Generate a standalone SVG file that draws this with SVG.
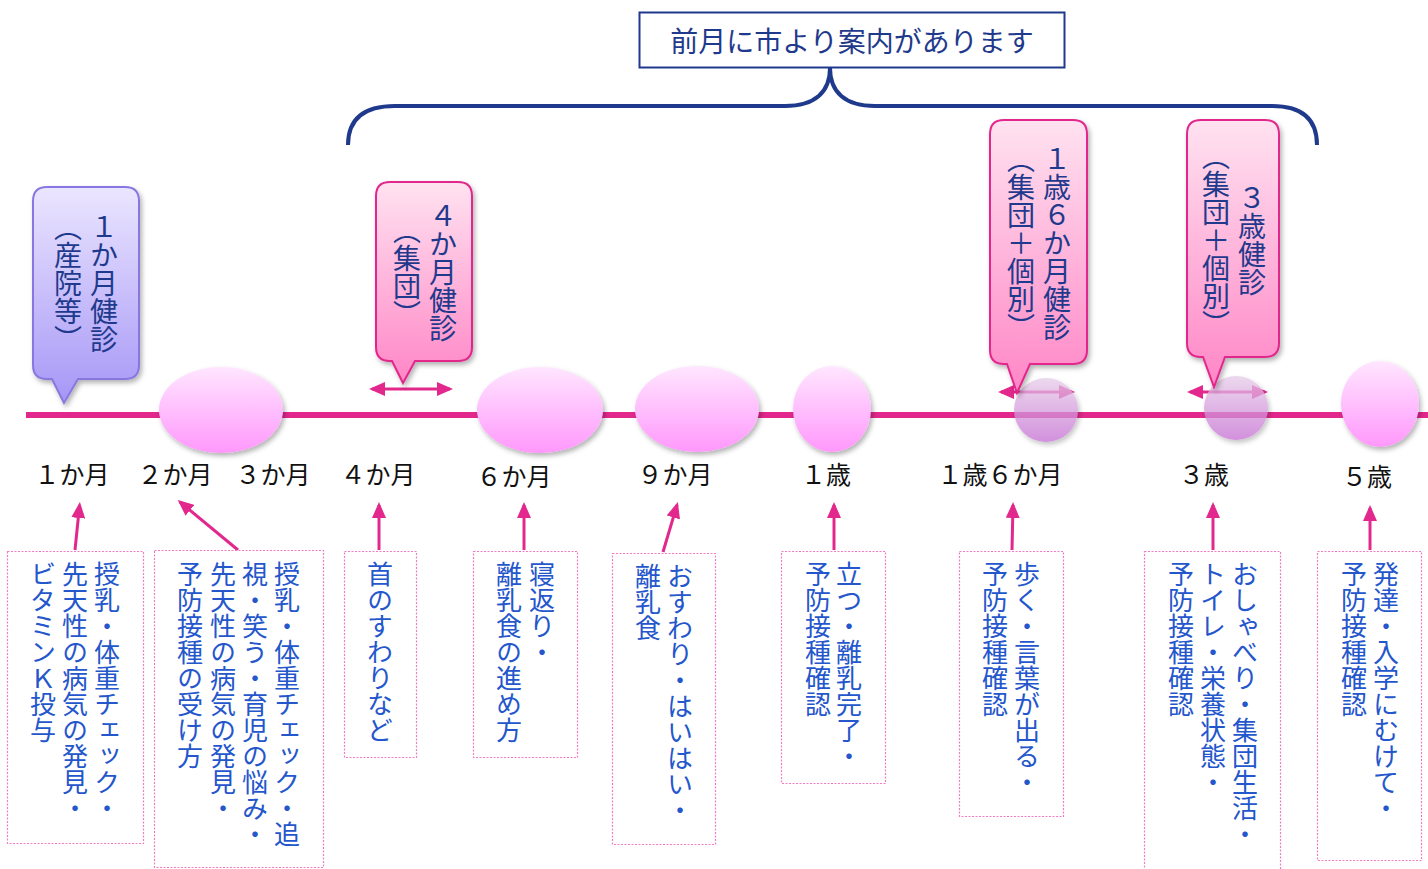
<svg xmlns="http://www.w3.org/2000/svg" width="1428" height="869" viewBox="0 0 1428 869">
<style>
.vt{writing-mode:vertical-rl;font-family:"Noto Sans CJK JP",sans-serif;}
.ct{font-size:28px;fill:#1f3a8c;text-anchor:middle;}
.bt{font-size:26px;fill:#2456cc;}
.lbl{font-family:"Noto Sans CJK JP",sans-serif;font-size:25px;fill:#111;text-anchor:middle;}
.box{fill:#fff;stroke:#f27cc4;stroke-width:1.2;stroke-dasharray:2 1.5;}
.conn{stroke:#e2288c;stroke-width:3;fill:none;}
.pk{fill:url(#gPink);stroke:#e2288c;stroke-width:2;filter:url(#sh);}
.ov{fill:url(#gOval);filter:url(#sh);}
.pc{fill:url(#gPurpleC);opacity:0.75;filter:url(#sh);}
</style>
<defs>
<linearGradient id="gOval" x1="0" y1="0" x2="0" y2="1"><stop offset="0" stop-color="#ffe6ff"/><stop offset="1" stop-color="#ff98fc"/></linearGradient>
<linearGradient id="gPurpleC" x1="0" y1="0" x2="0" y2="1"><stop offset="0" stop-color="#e6cce8"/><stop offset="1" stop-color="#c46cd2"/></linearGradient>
<linearGradient id="gPink" x1="0" y1="0" x2="0" y2="1"><stop offset="0" stop-color="#ffe2f0"/><stop offset="1" stop-color="#ff86c6"/></linearGradient>
<linearGradient id="gPurple" x1="0" y1="0" x2="0" y2="1"><stop offset="0" stop-color="#ebe6ff"/><stop offset="1" stop-color="#a696f6"/></linearGradient>
<filter id="sh" x="-20%" y="-20%" width="150%" height="150%"><feDropShadow dx="2" dy="3" stdDeviation="2.5" flood-color="#000" flood-opacity="0.3"/></filter>
<marker id="ah" viewBox="0 0 16 14" refX="13" refY="7" markerWidth="16" markerHeight="14" markerUnits="userSpaceOnUse" orient="auto-start-reverse"><path d="M0,0 L16,7 L0,14 Z" fill="#e2288c"/></marker>
</defs>
<rect width="1428" height="869" fill="#fff"/>

<g id="header">
<rect x="639.5" y="12.5" width="425" height="55" fill="#fff" stroke="#1f3a8c" stroke-width="2"/>
<text x="852" y="52" font-family="'Noto Sans CJK JP',sans-serif" font-size="28" fill="#1f3a8c" text-anchor="middle">前月に市より案内があります</text>
</g>

<g id="brace">
<path d="M348,145 Q348,106 395,106 L785,106 C815,106 830,92 830,68 C830,92 845,106 875,106 L1272,106 Q1317,106 1317,145" fill="none" stroke="#1f3a8c" stroke-width="4"/>
</g>

<g id="timeline">
<line x1="26" y1="415" x2="1428" y2="415" stroke="#e2288c" stroke-width="6"/>
</g>

<g id="connectors">
<line class="conn" x1="372" y1="389" x2="450" y2="389" marker-start="url(#ah)" marker-end="url(#ah)"/>
<line class="conn" x1="1001" y1="392" x2="1072" y2="392" marker-start="url(#ah)" marker-end="url(#ah)"/>
<line class="conn" x1="1190" y1="392" x2="1265" y2="392" marker-start="url(#ah)" marker-end="url(#ah)"/>
<line class="conn" x1="75" y1="550" x2="79.6" y2="505" marker-end="url(#ah)"/>
<line class="conn" x1="238" y1="550" x2="180" y2="502" marker-end="url(#ah)"/>
<line class="conn" x1="379" y1="550" x2="379" y2="505" marker-end="url(#ah)"/>
<line class="conn" x1="524" y1="550" x2="524" y2="505" marker-end="url(#ah)"/>
<line class="conn" x1="663" y1="552" x2="677" y2="505" marker-end="url(#ah)"/>
<line class="conn" x1="834" y1="550" x2="834" y2="505" marker-end="url(#ah)"/>
<line class="conn" x1="1012" y1="550" x2="1013" y2="505" marker-end="url(#ah)"/>
<line class="conn" x1="1213" y1="550" x2="1213" y2="505" marker-end="url(#ah)"/>
<line class="conn" x1="1370" y1="550" x2="1370" y2="508" marker-end="url(#ah)"/>
</g>

<g id="oval-2-3m"><ellipse class="ov" cx="221" cy="410" rx="62" ry="43"/></g>
<g id="oval-6m"><ellipse class="ov" cx="540" cy="410" rx="63" ry="43"/></g>
<g id="oval-9m"><ellipse class="ov" cx="697" cy="409" rx="62" ry="43"/></g>
<g id="oval-1y"><ellipse class="ov" cx="832" cy="409" rx="39" ry="43"/></g>
<g id="oval-5y"><ellipse class="ov" cx="1380" cy="404" rx="39" ry="43"/></g>

<g id="callout-1m">
<path d="M47,187 H125 Q139,187 139,201 V365 Q139,379 125,379 H78 L64,403 L52,379 H47 Q33,379 33,365 V201 Q33,187 47,187 Z" fill="url(#gPurple)" stroke="#8a76e0" stroke-width="2" filter="url(#sh)"/>
<text class="vt ct" x="104" y="283">１か月健診</text>
<text class="vt ct" x="68" y="283">（産院等）</text>
</g>
<g id="callout-4m">
<path d="M390,182 H458 Q472,182 472,196 V347 Q472,361 458,361 H415 L403,383 L392,361 H390 Q376,361 376,347 V196 Q376,182 390,182 Z" class="pk"/>
<text class="vt ct" x="443" y="272">４か月健診</text>
<text class="vt ct" x="407" y="272">（集団）</text>
</g>

<g id="circle-18m"><circle class="pc" cx="1046" cy="410" r="32"/></g>
<g id="circle-3y"><circle class="pc" cx="1236" cy="408" r="32"/></g>

<g id="callout-18m">
<path d="M1004,120 H1073 Q1087,120 1087,134 V350 Q1087,364 1073,364 H1030 L1017,393 L1007,364 H1004 Q990,364 990,350 V134 Q990,120 1004,120 Z" class="pk"/>
<text class="vt ct" x="1057" y="243">１歳６か月健診</text>
<text class="vt ct" x="1021" y="243">（集団＋個別）</text>
</g>
<g id="callout-3y">
<path d="M1201,120 H1265 Q1279,120 1279,134 V343 Q1279,357 1265,357 H1225 L1214,387 L1203,357 H1201 Q1187,357 1187,343 V134 Q1187,120 1201,120 Z" class="pk"/>
<text class="vt ct" x="1252" y="240">３歳健診</text>
<text class="vt ct" x="1216" y="240">（集団＋個別）</text>
</g>

<g id="labels">
<text class="lbl" x="72" y="484">１か月</text>
<text class="lbl" x="175" y="484">２か月</text>
<text class="lbl" x="273" y="484">３か月</text>
<text class="lbl" x="378" y="484">４か月</text>
<text class="lbl" x="514" y="486">６か月</text>
<text class="lbl" x="675" y="484">９か月</text>
<text class="lbl" x="826" y="484">１歳</text>
<text class="lbl" x="1000" y="484">１歳６か月</text>
<text class="lbl" x="1204" y="484">３歳</text>
<text class="lbl" x="1367" y="486">５歳</text>
</g>

<g id="box-1m">
<rect class="box" x="7.5" y="551.5" width="136" height="292"/>
<text class="vt bt" x="107" y="561">授乳・体重チェック・</text>
<text class="vt bt" x="75" y="561">先天性の病気の発見・</text>
<text class="vt bt" x="43" y="561">ビタミンＫ投与</text>
</g>
<g id="box-2-3m">
<rect class="box" x="154.5" y="550.5" width="169" height="317"/>
<text class="vt bt" x="287" y="561">授乳・体重チェック・追</text>
<text class="vt bt" x="255" y="561">視・笑う・育児の悩み・</text>
<text class="vt bt" x="223" y="561">先天性の病気の発見・</text>
<text class="vt bt" x="190" y="561">予防接種の受け方</text>
</g>
<g id="box-4m">
<rect class="box" x="344.5" y="551.5" width="72" height="206"/>
<text class="vt bt" x="380" y="561">首のすわりなど</text>
</g>
<g id="box-6m">
<rect class="box" x="473.5" y="551.5" width="104" height="206"/>
<text class="vt bt" x="542" y="561">寝返り・</text>
<text class="vt bt" x="509" y="561">離乳食の進め方</text>
</g>
<g id="box-9m">
<rect class="box" x="612.5" y="553.5" width="103" height="291"/>
<text class="vt bt" x="680" y="563">おすわり・はいはい・</text>
<text class="vt bt" x="648" y="563">離乳食</text>
</g>
<g id="box-1y">
<rect class="box" x="781.5" y="551.5" width="104" height="232"/>
<text class="vt bt" x="849" y="561">立つ・離乳完了・</text>
<text class="vt bt" x="818" y="561">予防接種確認</text>
</g>
<g id="box-18m">
<rect class="box" x="959.5" y="551.5" width="104" height="265"/>
<text class="vt bt" x="1027" y="561">歩く・言葉が出る・</text>
<text class="vt bt" x="995" y="561">予防接種確認</text>
</g>
<g id="box-3y">
<rect class="box" x="1144.5" y="551.5" width="136" height="330"/>
<text class="vt bt" x="1245" y="561">おしゃべり・集団生活・</text>
<text class="vt bt" x="1213" y="561">トイレ・栄養状態・</text>
<text class="vt bt" x="1181" y="561">予防接種確認</text>
</g>
<g id="box-5y">
<rect class="box" x="1317.5" y="551.5" width="104" height="309"/>
<text class="vt bt" x="1386" y="561">発達・入学にむけて・</text>
<text class="vt bt" x="1354" y="561">予防接種確認</text>
</g>
</svg>
